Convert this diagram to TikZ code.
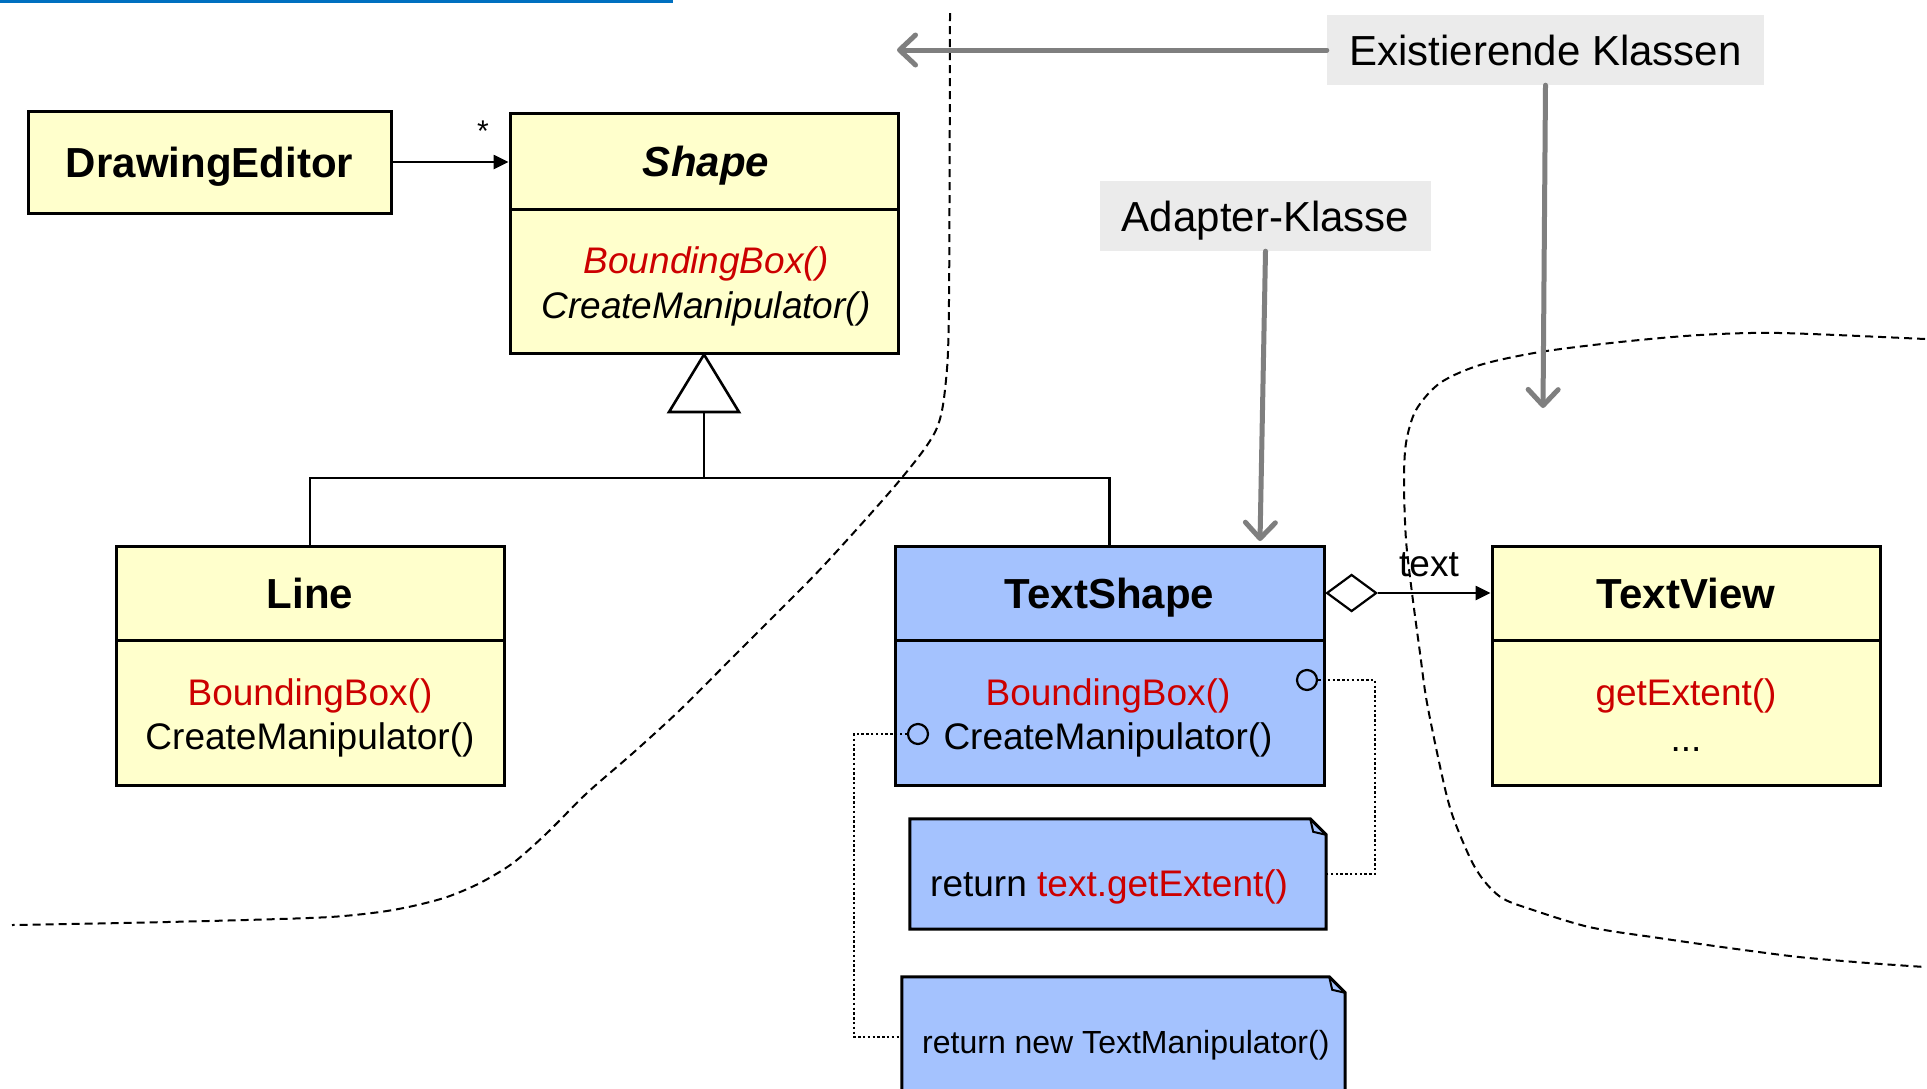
\documentclass[tikz,border=0pt]{standalone}
\usepackage{fontspec}
\setmainfont{Liberation Sans}
\usetikzlibrary{arrows.meta,shapes.geometric}

\definecolor{clsyellow}{HTML}{FFFFCC}
\definecolor{adaptblue}{HTML}{A4C2FE}
\definecolor{methred}{HTML}{CC0000}
\definecolor{tagbg}{HTML}{EBEBEB}
\definecolor{tagarrow}{HTML}{7F7F7F}
\definecolor{topbar}{HTML}{0070C0}

\newcommand{\clsnamefont}{\fontsize{42pt}{50pt}\selectfont\bfseries}
\newcommand{\opfont}{\fontsize{37pt}{44pt}\selectfont}
\newcommand{\smallopfont}{\fontsize{32pt}{38pt}\selectfont}
\newcommand{\tagfont}{\fontsize{42pt}{50pt}\selectfont}

\begin{document}
\begin{tikzpicture}[x=1pt,y=-1pt,
  box/.style={draw, line width=3pt, rectangle, inner sep=0pt},
  yelbox/.style={box, fill=clsyellow},
  bluebox/.style={box, fill=adaptblue},
  clsname/.style={font=\clsnamefont, text height=30pt, text depth=0pt},
  op/.style={font=\opfont, anchor=base, inner sep=0pt},
  conn/.style={draw, line width=2.6pt},
  assoc/.style={conn, -{Triangle[length=15pt,width=14pt]}},
  port/.style={circle, draw, line width=2.2pt, minimum size=20pt, inner sep=0pt},
  dotconn/.style={draw, line width=2.4pt, dash pattern=on 2.4pt off 2.4pt},
  boundary/.style={draw, line width=2pt, dash pattern=on 8pt off 5pt},
  tag/.style={fill=tagbg, font=\tagfont, text height=30pt, text depth=0pt, inner sep=0pt},
  tagarr/.style={draw=tagarrow, line width=5pt, line cap=round,
    -{Straight Barb[length=16pt,width=30pt,round]}},
  notebody/.style={rectangle, inner sep=0pt},
  noteline/.style={draw, line width=3pt, fill=adaptblue, line join=miter}
]
\useasboundingbox (0,0) rectangle (1927,1088);
\fill[white] (0,0) rectangle (1927,1088);
\fill[topbar] (0,0) rectangle (673,3);

% boundaries of the existing class groups
\draw[boundary] plot[smooth, tension=0.5] coordinates {(950,13) (949,300) (946,380) (936,430) (900,480) (827,562) (780,610) (730,660) (680,710) (633,753) (587,793) (547,833) (513,863) (480,883) (447,897) (413,906) (380,912) (330,917) (246,920) (123,923) (12,925)};
\draw[boundary] plot[smooth, tension=0.5] coordinates {(1925,339) (1780,333) (1700,335) (1620,342) (1540,352) (1480,365) (1440,383) (1416,410) (1406,443) (1404,483) (1406,540) (1412,593) (1420,653) (1427,703) (1443,780) (1453,817) (1471,860) (1485,882) (1502,898) (1527,908) (1589,927) (1659,938) (1729,948) (1799,957) (1868,963) (1925,967)};

% classes
\node[yelbox, clsname, minimum width=363pt, minimum height=102pt] (de) at (209.5,162) {DrawingEditor};

\node[yelbox, clsname, font=\clsnamefont\itshape, minimum width=388pt, minimum height=96pt] (shT) at (704,161) {\hspace*{4pt}Shape};
\node[yelbox, minimum width=388pt, minimum height=144pt] (shB) at (704,281) {};
\node[op, font=\opfont\itshape, text=methred] (shOp1) at (706,273) {BoundingBox()};
\node[op, font=\opfont\itshape] (shOp2) at (706,318) {CreateManipulator()};

\node[yelbox, clsname, minimum width=388pt, minimum height=94pt] (lineT) at (310,593) {Line};
\node[yelbox, minimum width=388pt, minimum height=145pt] (lineB) at (310,712.5) {};
\node[op, text=methred] (lineOp1) at (310,705) {BoundingBox()};
\node[op] (lineOp2) at (310,749) {CreateManipulator()};

\node[bluebox, clsname, minimum width=429pt, minimum height=94pt] (tsT) at (1109.5,593) {TextShape};
\node[bluebox, minimum width=429pt, minimum height=145pt] (tsB) at (1109.5,712.5) {};
\node[op, text=methred] (tsOp1) at (1108,705) {BoundingBox()};
\node[op] (tsOp2) at (1108,749) {CreateManipulator()};
\node[port] (portA) at (1307,680) {};
\node[port] (portB) at (918,734) {};

\node[yelbox, clsname, minimum width=388pt, minimum height=94pt] (tvT) at (1686,593) {TextView};
\node[yelbox, minimum width=388pt, minimum height=145pt] (tvB) at (1686,712.5) {};
\node[op, text=methred] (tvOp1) at (1686,705) {getExtent()};
\node[op] (tvOp2) at (1686,751) {...};

% association DrawingEditor -> Shape
\draw[assoc] (de.east) -- (de.east -| shT.west);
\node[font=\fontsize{30pt}{36pt}\selectfont, anchor=base, inner sep=0pt] (mult) at (483,141) {*};

% generalisation
\coordinate (triBase) at (704,412);
\coordinate (junc) at (704,478);
\draw[conn, fill=white, line join=miter] (shB.south) -- (739,412) -- (669,412) -- cycle;
\draw[conn] (triBase) -- (junc);
\draw[conn] (lineT.north) |- (junc) -| (tsT.north);

% aggregation TextShape -> TextView
\node[diamond, draw, line width=2.2pt, fill=white, minimum width=50pt, minimum height=37pt, inner sep=0pt, anchor=west] (agg) at (tsT.east) {};
\draw[assoc] (agg.east) -- (tvT.west);
\node[font=\opfont, anchor=base, inner sep=0pt] (roleText) at (1429,576) {text};

% implementation notes
\node[notebody, minimum width=416pt, minimum height=110pt] (n1) at (1118,874) {};
\draw[noteline] (n1.south west) -- (n1.north west) -- ([xshift=-16pt]n1.north east) -- ([yshift=-16pt]n1.north east) -- (n1.south east) -- cycle;
\draw[line width=2pt, line join=miter] ([xshift=-16pt]n1.north east) -- ([xshift=-13pt,yshift=-13pt]n1.north east) -- ([yshift=-16pt]n1.north east);
\node[op, anchor=base west] (n1txt) at (930,896) {return \textcolor{methred}{text.getExtent()}};

\node[notebody, minimum width=443pt, minimum height=120pt] (n2) at (1123.5,1037) {};
\draw[noteline] (n2.south west) -- (n2.north west) -- ([xshift=-16pt]n2.north east) -- ([yshift=-16pt]n2.north east) -- (n2.south east) -- cycle;
\draw[line width=2pt, line join=miter] ([xshift=-16pt]n2.north east) -- ([xshift=-13pt,yshift=-13pt]n2.north east) -- ([yshift=-16pt]n2.north east);
\node[op, font=\smallopfont, anchor=base west] (n2txt) at (922,1053) {return new TextManipulator()};

% note links
\coordinate (bendA) at (1375,680);
\draw[dotconn] (portA.east) -- (bendA) |- (n1.east);
\coordinate (bendB) at (854,734);
\draw[dotconn] (portB.west) -- (bendB) |- (n2.west);

% labels for the class groups
\node[tag, minimum width=437pt, minimum height=70pt] (ek) at (1545.5,50) {Existierende Klassen};
\node[tag, minimum width=331pt, minimum height=70pt] (ak) at (1265.5,216) {Adapter-Klasse};
\coordinate (ekLeft) at (897,50);
\coordinate (ekDown) at (1543,408);
\coordinate (akDown) at (1260,541);
\draw[tagarr] (ek.west) -- (ekLeft);
\draw[tagarr] (ek.south) -- (ekDown);
\draw[tagarr] (ak.south) -- (akDown);
\end{tikzpicture}
\end{document}
